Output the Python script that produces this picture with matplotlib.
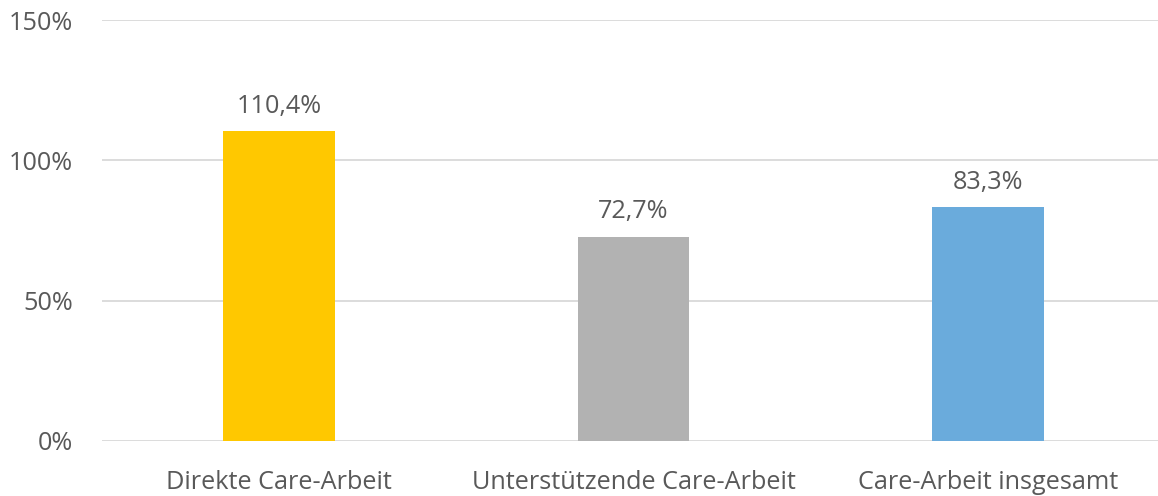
import matplotlib
matplotlib.use("Agg")
import matplotlib.pyplot as plt
from matplotlib.ticker import FuncFormatter

categories = ["Direkte Care-Arbeit", "Unterstützende Care-Arbeit", "Care-Arbeit insgesamt"]
values = [110.4, 72.7, 83.3]
labels = ["110,4%", "72,7%", "83,3%"]
colors = ["#FFC800", "#B2B2B2", "#6AABDC"]
y_ticks = [0, 50, 100, 150]

plt.rcParams["font.family"] = ["Open Sans", "DejaVu Sans"]
text_color = "#595959"
fs = 18.2

fig = plt.figure(figsize=(11.58, 4.96), dpi=100)
ax = fig.add_axes([102 / 1158, 55 / 496, (1165 - 102) / 1158, 421 / 496])

x = list(range(len(categories)))
bars = ax.bar(x, values, width=0.316, color=colors, zorder=3)
for bar, lab in zip(bars, labels):
    ax.annotate(lab, (bar.get_x() + bar.get_width() / 2, bar.get_height()),
                xytext=(0, 9), textcoords="offset points",
                ha="center", va="bottom", fontsize=fs, color=text_color)

ax.set_xlim(-0.5, 2.5)
ax.set_ylim(0, 150)
ax.set_yticks(y_ticks)
ax.yaxis.set_major_formatter(FuncFormatter(lambda v, _: f"{v:.0f}%"))
ax.set_xticks(x)
ax.set_xticklabels(categories)
ax.tick_params(axis="both", length=0, labelsize=fs, colors=text_color)
ax.tick_params(axis="y", pad=21)
ax.tick_params(axis="x", pad=21)
ax.grid(axis="y", color="#D9D9D9", linewidth=1.3, zorder=0)
for side in ["top", "right", "left", "bottom"]:
    ax.spines[side].set_visible(False)

fig.savefig("out.png", dpi=100)
